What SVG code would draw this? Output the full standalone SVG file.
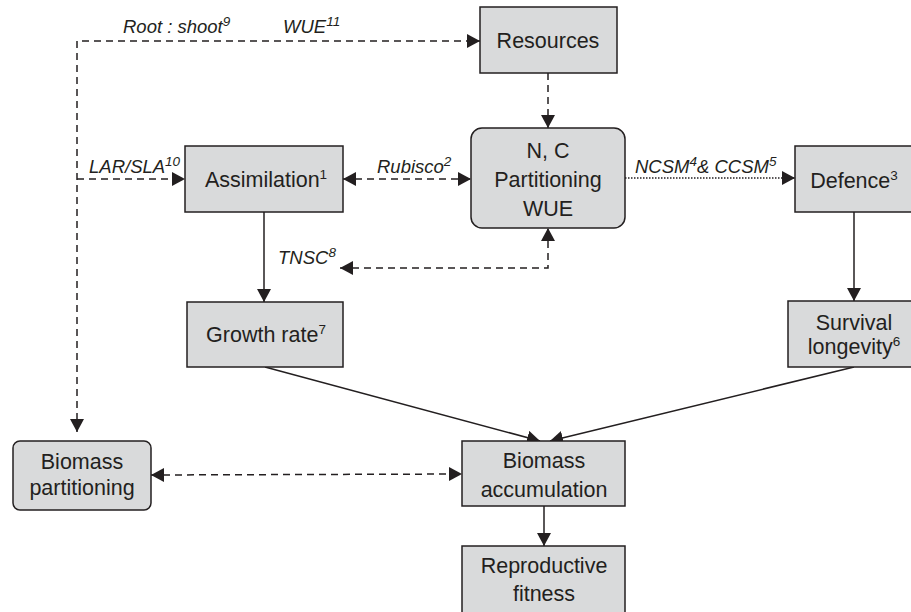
<svg xmlns="http://www.w3.org/2000/svg" width="911" height="612" viewBox="0 0 911 612">
<style>
.box{fill:#d9dadb;stroke:#231f20;stroke-width:1.5}
.t{font-family:"Liberation Sans",Arial,sans-serif;font-size:21.5px;fill:#231f20;text-anchor:middle}
.l{font-family:"Liberation Sans",Arial,sans-serif;font-size:18.5px;font-style:italic;fill:#231f20}
.sup{font-size:13.5px}
.c{fill:none;stroke:#231f20;stroke-width:1.5}
.d{stroke-dasharray:7 5}
.o{stroke-dasharray:1.5 1.5}
</style>
<defs>
<marker id="a" markerUnits="userSpaceOnUse" markerWidth="15" markerHeight="15" refX="13" refY="7" orient="auto-start-reverse" viewBox="0 0 15 15">
<path d="M0,0 L13,7 L0,14 z" fill="#231f20"/>
</marker>
</defs>
<rect width="911" height="612" fill="#ffffff"/>

<g id="connectors">
<path class="c d" d="M77,432 L77,41 L480,41" marker-start="url(#a)" marker-end="url(#a)"/>
<path class="c d" d="M77,179 L185,179" marker-end="url(#a)"/>
<path class="c d" d="M343,179 L471,179" marker-start="url(#a)" marker-end="url(#a)"/>
<path class="c o" d="M625,178 L795,178" marker-end="url(#a)"/>
<path class="c d" d="M548,73 L548,128" marker-end="url(#a)"/>
<path class="c d" d="M340,268 L548,268 L548,228" marker-start="url(#a)" marker-end="url(#a)"/>
<path class="c" d="M264,212 L264,302" marker-end="url(#a)"/>
<path class="c" d="M854,212 L854,301" marker-end="url(#a)"/>
<path class="c" d="M265,367 L540,441" marker-end="url(#a)"/>
<path class="c" d="M854,367 L550,441" marker-end="url(#a)"/>
<path class="c d" d="M151,475 L462,474" marker-start="url(#a)" marker-end="url(#a)"/>
<path class="c" d="M544,506 L544,546" marker-end="url(#a)"/>
<text class="l" x="123" y="33">Root : shoot<tspan class="sup" dy="-7">9</tspan></text>
<text class="l" x="283" y="33">WUE<tspan class="sup" dy="-7">11</tspan></text>
<text class="l" x="89" y="173">LAR/SLA<tspan class="sup" dy="-7">10</tspan></text>
<text class="l" x="377" y="173">Rubisco<tspan class="sup" dy="-7">2</tspan></text>
<text class="l" x="635" y="173">NCSM<tspan class="sup" dy="-7">4</tspan><tspan dy="7">&amp; CCSM</tspan><tspan class="sup" dy="-7">5</tspan></text>
<text class="l" x="278" y="264">TNSC<tspan class="sup" dy="-7">8</tspan></text>
</g>

<g id="resources">
<rect class="box" x="480" y="7" width="137" height="66"/>
<text class="t" x="548" y="48">Resources</text>
</g>
<g id="assimilation">
<rect class="box" x="185" y="146" width="158" height="66"/>
<text class="t" x="266" y="187">Assimilation<tspan class="sup" dy="-8">1</tspan></text>
</g>
<g id="partitioning">
<rect class="box" x="471" y="128" width="154" height="100" rx="11"/>
<text class="t" x="548" y="158">N, C</text>
<text class="t" x="548" y="187">Partitioning</text>
<text class="t" x="548" y="216">WUE</text>
</g>
<g id="defence">
<rect class="box" x="795" y="146" width="120" height="66"/>
<text class="t" x="854" y="188">Defence<tspan class="sup" dy="-8">3</tspan></text>
</g>
<g id="growth">
<rect class="box" x="187" y="302" width="156" height="65"/>
<text class="t" x="266" y="342">Growth rate<tspan class="sup" dy="-8">7</tspan></text>
</g>
<g id="survival">
<rect class="box" x="788" y="301" width="135" height="66"/>
<text class="t" x="854" y="330">Survival</text>
<text class="t" x="854" y="354">longevity<tspan class="sup" dy="-8">6</tspan></text>
</g>
<g id="biomass-partitioning">
<rect class="box" x="13" y="441" width="138" height="69" rx="7"/>
<text class="t" x="82" y="469">Biomass</text>
<text class="t" x="82" y="495">partitioning</text>
</g>
<g id="biomass-accumulation">
<rect class="box" x="462" y="441" width="163" height="65"/>
<text class="t" x="544" y="468">Biomass</text>
<text class="t" x="544" y="497">accumulation</text>
</g>
<g id="reproductive">
<rect class="box" x="462" y="546" width="163" height="70"/>
<text class="t" x="544" y="573">Reproductive</text>
<text class="t" x="544" y="601">fitness</text>
</g>
</svg>
